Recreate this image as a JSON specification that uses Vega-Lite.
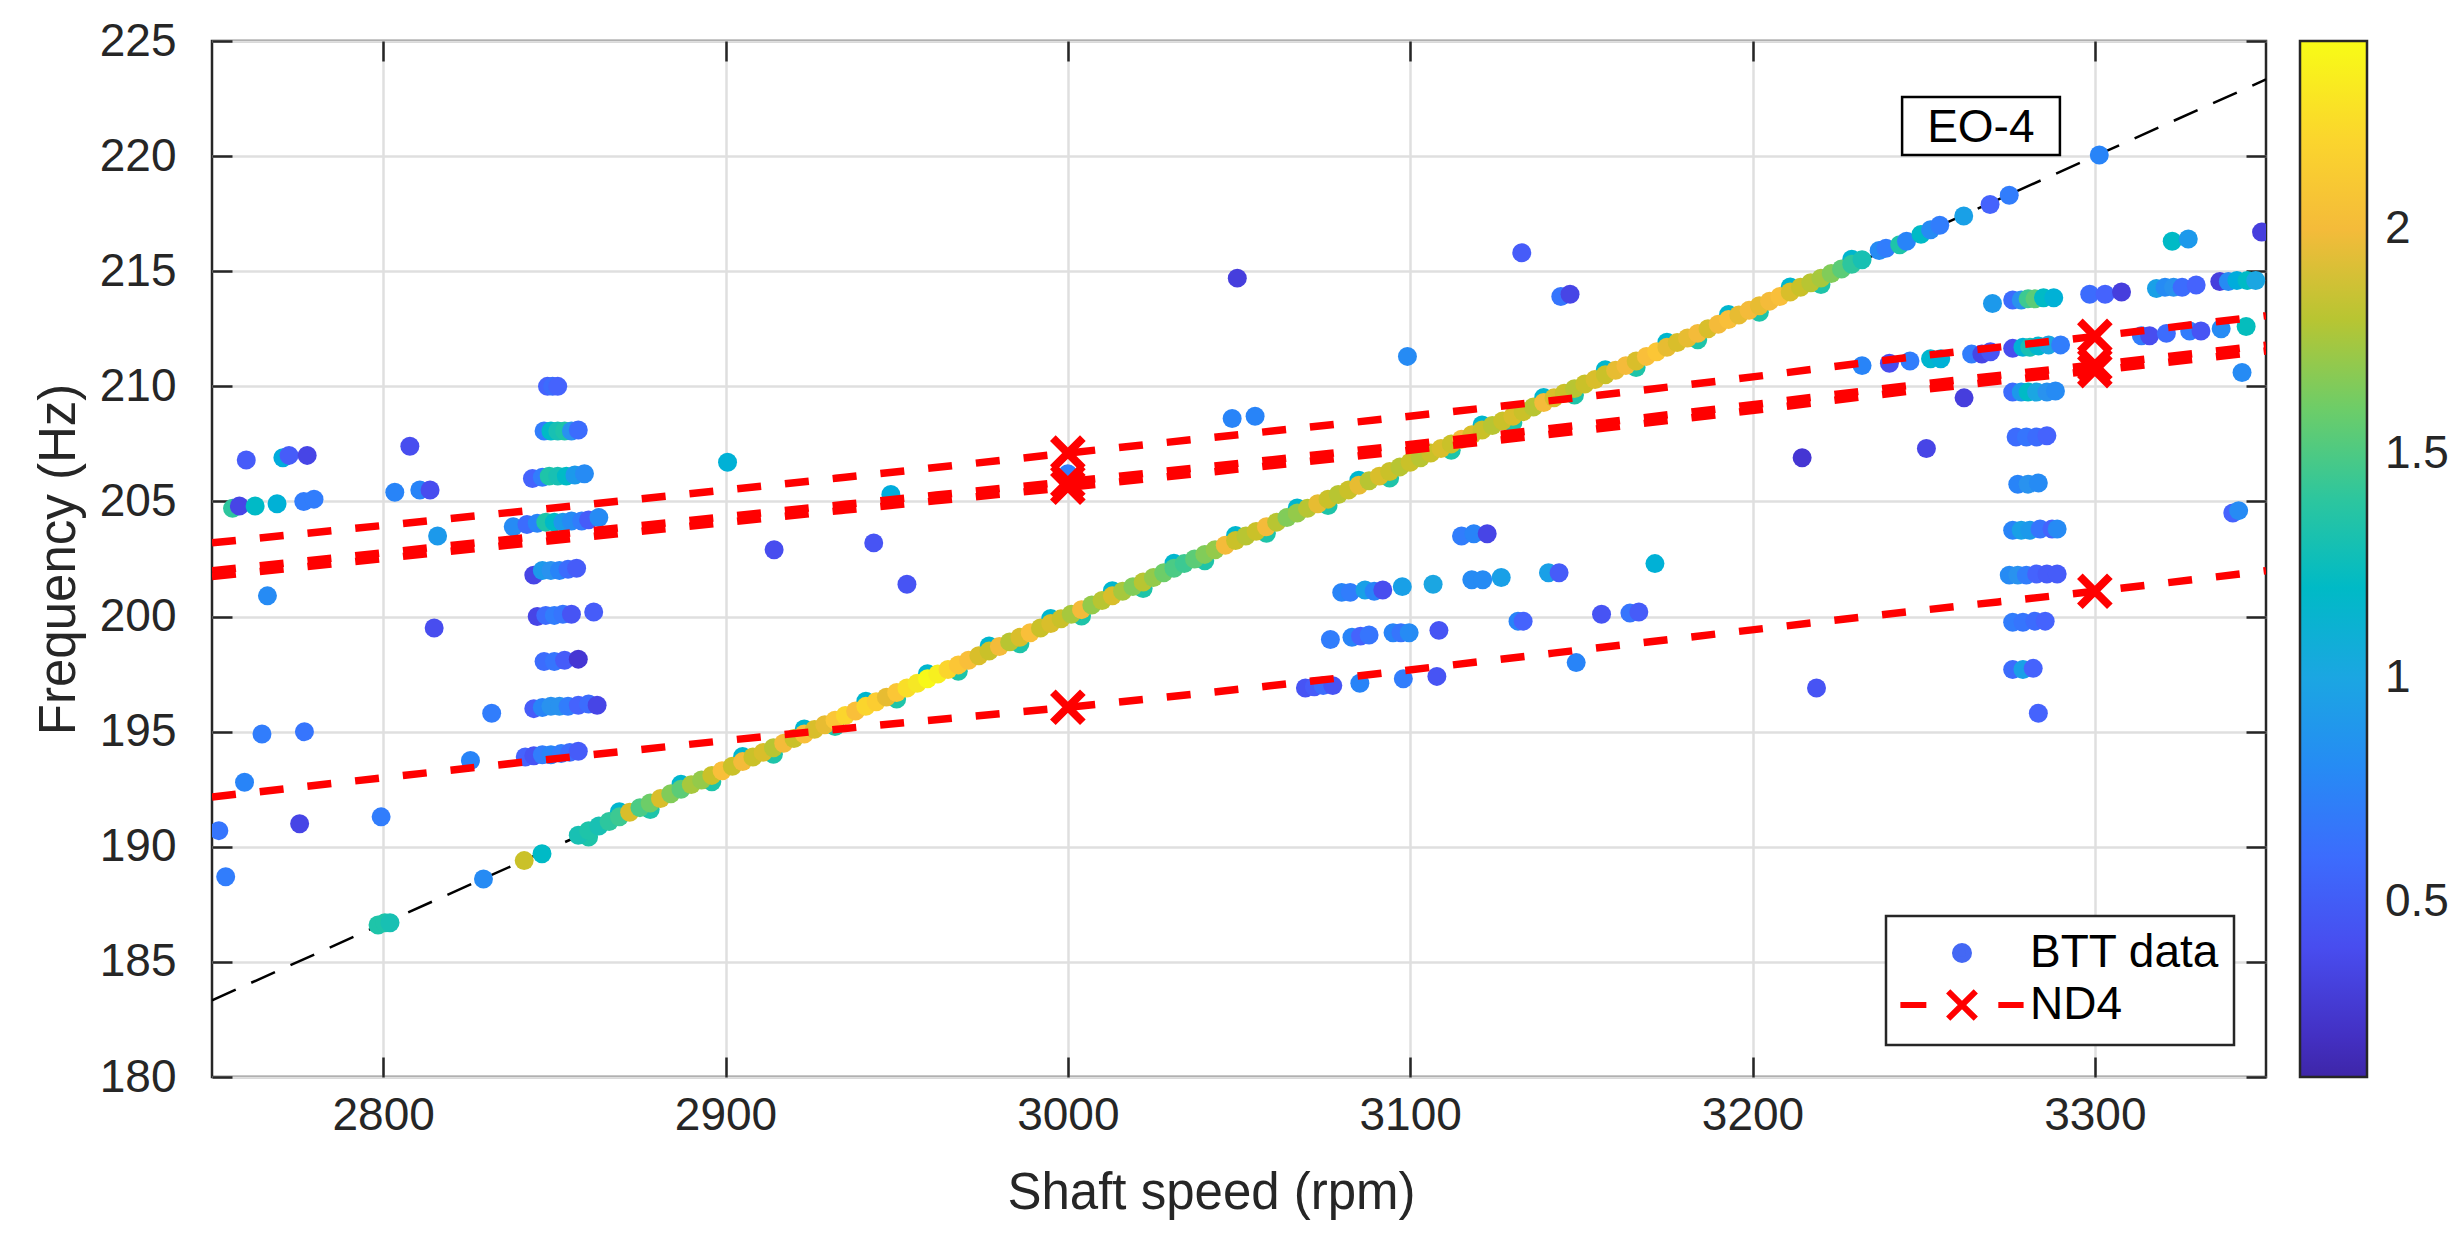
{
"$schema":"https://vega.github.io/schema/vega-lite/v6.json",
"width":2054,"height":1036,
"autosize":{"type":"none"},
"padding":{"left":212,"top":41,"right":196,"bottom":161},
"background":"white",
"datasets":{
"eo":[{"rpm":2750,"freq":183.33},{"rpm":3350,"freq":223.33}],
"note":[{"label":"EO-4","rpm":3266.7,"freq":221.2,"x1":3243.7,"x2":3289.8,"y1":220.05,"y2":222.57}],
"series":[{"series":"BTT data"},{"series":"ND4"}],
"nd4":[
{"mode":"A","rpm":2750,"freq":203.2,"fe":false},{"mode":"A","rpm":2935,"freq":206.05,"fe":false},{"mode":"A","rpm":3000,"freq":207.1,"fe":true},{"mode":"A","rpm":3194,"freq":210.3,"fe":false},{"mode":"A","rpm":3248,"freq":211.3,"fe":false},{"mode":"A","rpm":3300,"freq":212.17,"fe":true},{"mode":"A","rpm":3350,"freq":213.07,"fe":false},
{"mode":"B","rpm":2750,"freq":201.985,"fe":false},{"mode":"B","rpm":2935,"freq":204.875,"fe":false},{"mode":"B","rpm":3000,"freq":205.865,"fe":true},{"mode":"B","rpm":3194,"freq":209.095,"fe":false},{"mode":"B","rpm":3248,"freq":210.075,"fe":false},{"mode":"B","rpm":3300,"freq":210.935,"fe":true},{"mode":"B","rpm":3350,"freq":211.785,"fe":false},
{"mode":"C","rpm":2750,"freq":201.735,"fe":false},{"mode":"C","rpm":2935,"freq":204.625,"fe":false},{"mode":"C","rpm":3000,"freq":205.615,"fe":true},{"mode":"C","rpm":3194,"freq":208.845,"fe":false},{"mode":"C","rpm":3248,"freq":209.825,"fe":false},{"mode":"C","rpm":3300,"freq":210.685,"fe":true},{"mode":"C","rpm":3350,"freq":211.535,"fe":false},
{"mode":"D","rpm":2750,"freq":192.16,"fe":false},{"mode":"D","rpm":2935,"freq":195.14,"fe":false},{"mode":"D","rpm":3000,"freq":196.06,"fe":true},{"mode":"D","rpm":3194,"freq":199.32,"fe":false},{"mode":"D","rpm":3248,"freq":200.25,"fe":false},{"mode":"D","rpm":3300,"freq":201.1,"fe":true},{"mode":"D","rpm":3350,"freq":201.99,"fe":false}
],
"btt":[
{"rpm":2752,"freq":190.7,"amp":0.65},{"rpm":2754,"freq":188.7,"amp":0.7},{"rpm":2756,"freq":204.7,"amp":1.4},{"rpm":2758,"freq":204.8,"amp":0.35},{"rpm":2760,"freq":206.8,"amp":0.5},{"rpm":2759.5,"freq":192.8,"amp":0.75},{"rpm":2762.6,"freq":204.8,"amp":1.2},{"rpm":2764.6,"freq":194.9,"amp":0.7},{"rpm":2766.2,"freq":200.9,"amp":0.8},{"rpm":2769,"freq":204.9,"amp":1.1},{"rpm":2770.7,"freq":206.9,"amp":1.05},{"rpm":2772.5,"freq":207.0,"amp":0.5},{"rpm":2777.8,"freq":207.0,"amp":0.35},{"rpm":2775.6,"freq":191.0,"amp":0.35},{"rpm":2777,"freq":195.0,"amp":0.65},{"rpm":2776.8,"freq":205.0,"amp":0.7},{"rpm":2779.8,"freq":205.1,"amp":0.7},{"rpm":2799.4,"freq":191.3,"amp":0.7},{"rpm":2798.5,"freq":186.6,"amp":1.35},{"rpm":2800.5,"freq":186.7,"amp":1.35},{"rpm":2802,"freq":186.7,"amp":1.3},{"rpm":2803.4,"freq":205.4,"amp":0.75},{"rpm":2807.8,"freq":207.4,"amp":0.4},{"rpm":2810.7,"freq":205.5,"amp":0.75},{"rpm":2813.7,"freq":205.5,"amp":0.4},{"rpm":2815.9,"freq":203.5,"amp":0.9},{"rpm":2814.9,"freq":199.5,"amp":0.4},{"rpm":2825.5,"freq":193.75,"amp":0.75},{"rpm":2831.7,"freq":195.8,"amp":0.7},{"rpm":2829.3,"freq":188.6,"amp":0.8},{"rpm":2841.2,"freq":189.4,"amp":1.85},{"rpm":2846.4,"freq":189.7,"amp":1.2},{"rpm":2838,"freq":203.9,"amp":0.8},
{"rpm":2848,"freq":210.0,"amp":0.55},{"rpm":2849.5,"freq":210.0,"amp":0.6},{"rpm":2851,"freq":210.0,"amp":0.55},
{"rpm":2847,"freq":208.06,"amp":0.7},{"rpm":2849,"freq":208.06,"amp":1.2},{"rpm":2851,"freq":208.06,"amp":1.3},{"rpm":2853,"freq":208.06,"amp":1.35},{"rpm":2855,"freq":208.06,"amp":0.85},{"rpm":2857,"freq":208.1,"amp":0.6},
{"rpm":2843.6,"freq":206.0,"amp":0.55},{"rpm":2846.5,"freq":206.05,"amp":0.7},{"rpm":2848.5,"freq":206.1,"amp":1.35},{"rpm":2851,"freq":206.1,"amp":1.3},{"rpm":2853.5,"freq":206.1,"amp":1.2},{"rpm":2856,"freq":206.15,"amp":0.9},{"rpm":2858.8,"freq":206.2,"amp":0.8},
{"rpm":2842,"freq":204.0,"amp":0.6},{"rpm":2845,"freq":204.05,"amp":0.75},{"rpm":2847.5,"freq":204.1,"amp":1.35},{"rpm":2850,"freq":204.1,"amp":1.2},{"rpm":2852.5,"freq":204.1,"amp":0.9},{"rpm":2855,"freq":204.15,"amp":0.8},{"rpm":2858,"freq":204.15,"amp":0.7},{"rpm":2860,"freq":204.2,"amp":0.5},{"rpm":2863,"freq":204.3,"amp":0.8},
{"rpm":2844,"freq":201.8,"amp":0.35},{"rpm":2846.5,"freq":202.0,"amp":0.9},{"rpm":2849,"freq":202.0,"amp":0.85},{"rpm":2851.5,"freq":202.0,"amp":0.75},{"rpm":2854,"freq":202.05,"amp":0.6},{"rpm":2856.5,"freq":202.1,"amp":0.5},
{"rpm":2845,"freq":200.0,"amp":0.35},{"rpm":2847.5,"freq":200.05,"amp":0.6},{"rpm":2850,"freq":200.05,"amp":0.7},{"rpm":2852.5,"freq":200.1,"amp":0.65},{"rpm":2855,"freq":200.1,"amp":0.45},{"rpm":2861.5,"freq":200.2,"amp":0.5},
{"rpm":2847,"freq":198.05,"amp":0.6},{"rpm":2850,"freq":198.05,"amp":0.65},{"rpm":2853,"freq":198.1,"amp":0.5},{"rpm":2857,"freq":198.15,"amp":0.25},
{"rpm":2844,"freq":196.0,"amp":0.5},{"rpm":2846.5,"freq":196.05,"amp":0.75},{"rpm":2849,"freq":196.1,"amp":0.85},{"rpm":2851.5,"freq":196.1,"amp":0.85},{"rpm":2854,"freq":196.1,"amp":0.7},{"rpm":2857,"freq":196.15,"amp":0.55},{"rpm":2860,"freq":196.2,"amp":0.6},{"rpm":2862.5,"freq":196.15,"amp":0.35},
{"rpm":2841.5,"freq":193.9,"amp":0.55},{"rpm":2844,"freq":193.95,"amp":0.45},{"rpm":2846.5,"freq":194.0,"amp":0.7},{"rpm":2849,"freq":194.0,"amp":0.75},{"rpm":2852,"freq":194.05,"amp":0.7},{"rpm":2854.5,"freq":194.1,"amp":0.6},{"rpm":2857,"freq":194.15,"amp":0.5},
{"rpm":2900.6,"freq":206.7,"amp":1.1},{"rpm":2914.2,"freq":202.9,"amp":0.4},{"rpm":2943.3,"freq":203.2,"amp":0.45},{"rpm":2948.3,"freq":205.3,"amp":1.05},{"rpm":2953,"freq":201.4,"amp":0.45},{"rpm":3000,"freq":206.2,"amp":0.7},{"rpm":3049.5,"freq":214.7,"amp":0.3},{"rpm":3048,"freq":208.6,"amp":0.75},{"rpm":3054.7,"freq":208.7,"amp":0.75},{"rpm":3099.2,"freq":211.3,"amp":0.8},{"rpm":3132.6,"freq":215.8,"amp":0.5},{"rpm":3144,"freq":213.9,"amp":0.65},{"rpm":3146.7,"freq":214.0,"amp":0.35},{"rpm":3214.5,"freq":206.9,"amp":0.25},{"rpm":3115,"freq":203.5,"amp":0.7},{"rpm":3118.6,"freq":203.6,"amp":0.75},{"rpm":3122.5,"freq":203.6,"amp":0.35},
{"rpm":3080,"freq":201.05,"amp":0.75},{"rpm":3082.5,"freq":201.05,"amp":0.7},{"rpm":3086.8,"freq":201.15,"amp":0.95},{"rpm":3089.5,"freq":201.1,"amp":0.75},{"rpm":3092,"freq":201.15,"amp":0.4},{"rpm":3097.7,"freq":201.3,"amp":0.95},{"rpm":3106.7,"freq":201.4,"amp":1.0},{"rpm":3118,"freq":201.6,"amp":0.8},{"rpm":3121.2,"freq":201.6,"amp":0.8},{"rpm":3126.6,"freq":201.7,"amp":0.95},{"rpm":3140.4,"freq":201.9,"amp":0.95},{"rpm":3143.5,"freq":201.9,"amp":0.5},{"rpm":3171.5,"freq":202.3,"amp":1.1},
{"rpm":3076.7,"freq":199.0,"amp":0.7},{"rpm":3083,"freq":199.1,"amp":0.75},{"rpm":3085.5,"freq":199.15,"amp":0.55},{"rpm":3088,"freq":199.2,"amp":0.65},{"rpm":3095,"freq":199.3,"amp":0.75},{"rpm":3097.3,"freq":199.3,"amp":0.65},{"rpm":3099.7,"freq":199.3,"amp":0.8},{"rpm":3108.4,"freq":199.4,"amp":0.45},{"rpm":3131.5,"freq":199.8,"amp":0.75},{"rpm":3133,"freq":199.8,"amp":0.55},{"rpm":3155.9,"freq":200.1,"amp":0.45},{"rpm":3164.2,"freq":200.15,"amp":0.65},{"rpm":3166.8,"freq":200.2,"amp":0.5},
{"rpm":3069.4,"freq":196.9,"amp":0.45},{"rpm":3072,"freq":196.95,"amp":0.5},{"rpm":3074.6,"freq":197.0,"amp":0.6},{"rpm":3077.4,"freq":197.0,"amp":0.45},{"rpm":3085.3,"freq":197.1,"amp":0.75},{"rpm":3098,"freq":197.3,"amp":0.7},{"rpm":3107.8,"freq":197.4,"amp":0.45},{"rpm":3148.5,"freq":198.0,"amp":0.75},{"rpm":3218.7,"freq":196.9,"amp":0.45},
{"rpm":3232,"freq":210.9,"amp":0.75},{"rpm":3240,"freq":211.0,"amp":0.4},{"rpm":3246,"freq":211.1,"amp":0.7},{"rpm":3252,"freq":211.2,"amp":1.15},{"rpm":3255,"freq":211.2,"amp":1.1},{"rpm":3264,"freq":211.4,"amp":0.7},{"rpm":3267,"freq":211.4,"amp":0.35},{"rpm":3269.5,"freq":211.5,"amp":0.45},{"rpm":3276,"freq":211.65,"amp":0.4},{"rpm":3279,"freq":211.7,"amp":1.1},{"rpm":3281,"freq":211.7,"amp":1.3},{"rpm":3283.5,"freq":211.75,"amp":1.15},{"rpm":3286.5,"freq":211.8,"amp":1.0},{"rpm":3290,"freq":211.8,"amp":0.7},{"rpm":3313.6,"freq":212.2,"amp":0.7},{"rpm":3316,"freq":212.2,"amp":0.4},{"rpm":3320.9,"freq":212.3,"amp":0.6},{"rpm":3327.7,"freq":212.4,"amp":0.7},{"rpm":3331,"freq":212.4,"amp":0.45},{"rpm":3336.9,"freq":212.5,"amp":0.8},{"rpm":3344.2,"freq":212.6,"amp":1.25},{"rpm":3343,"freq":210.6,"amp":0.8},{"rpm":3261.8,"freq":209.5,"amp":0.3},{"rpm":3250.8,"freq":207.3,"amp":0.35},{"rpm":3340.3,"freq":204.5,"amp":0.55},{"rpm":3342,"freq":204.6,"amp":0.8},
{"rpm":3270.1,"freq":213.6,"amp":0.9},{"rpm":3276,"freq":213.75,"amp":0.6},{"rpm":3278.5,"freq":213.75,"amp":0.85},{"rpm":3280.5,"freq":213.8,"amp":1.45},{"rpm":3282.5,"freq":213.8,"amp":1.55},{"rpm":3285,"freq":213.85,"amp":1.2},{"rpm":3288,"freq":213.85,"amp":1.1},{"rpm":3298.5,"freq":214.0,"amp":0.6},{"rpm":3303,"freq":214.0,"amp":0.55},{"rpm":3307.8,"freq":214.1,"amp":0.3},{"rpm":3318,"freq":214.25,"amp":0.95},{"rpm":3320.5,"freq":214.3,"amp":0.8},{"rpm":3323,"freq":214.3,"amp":0.85},{"rpm":3325.5,"freq":214.3,"amp":0.6},{"rpm":3329.6,"freq":214.4,"amp":0.55},{"rpm":3336.5,"freq":214.55,"amp":0.3},{"rpm":3339,"freq":214.55,"amp":0.8},{"rpm":3341.5,"freq":214.6,"amp":1.05},{"rpm":3344.5,"freq":214.6,"amp":1.2},{"rpm":3347,"freq":214.6,"amp":1.0},
{"rpm":3322.6,"freq":216.3,"amp":1.2},{"rpm":3327.3,"freq":216.4,"amp":0.9},{"rpm":3348.7,"freq":216.7,"amp":0.3},
{"rpm":3276,"freq":209.75,"amp":0.6},{"rpm":3278.5,"freq":209.75,"amp":0.9},{"rpm":3280.5,"freq":209.75,"amp":1.2},{"rpm":3283,"freq":209.75,"amp":1.0},{"rpm":3286,"freq":209.75,"amp":0.85},{"rpm":3288.5,"freq":209.8,"amp":0.8},
{"rpm":3277,"freq":207.8,"amp":0.6},{"rpm":3280,"freq":207.8,"amp":0.65},{"rpm":3283,"freq":207.8,"amp":0.6},{"rpm":3286,"freq":207.85,"amp":0.55},
{"rpm":3277.5,"freq":205.75,"amp":0.75},{"rpm":3280.5,"freq":205.75,"amp":0.85},{"rpm":3283.5,"freq":205.8,"amp":0.8},
{"rpm":3276,"freq":203.75,"amp":0.75},{"rpm":3278.5,"freq":203.75,"amp":0.95},{"rpm":3281,"freq":203.75,"amp":0.9},{"rpm":3284,"freq":203.8,"amp":0.65},{"rpm":3287.5,"freq":203.8,"amp":0.55},{"rpm":3289,"freq":203.8,"amp":0.8},
{"rpm":3275,"freq":201.8,"amp":0.8},{"rpm":3277.5,"freq":201.8,"amp":0.85},{"rpm":3280,"freq":201.8,"amp":0.7},{"rpm":3283,"freq":201.85,"amp":0.55},{"rpm":3286,"freq":201.85,"amp":0.5},{"rpm":3289,"freq":201.85,"amp":0.5},
{"rpm":3276,"freq":199.75,"amp":0.7},{"rpm":3279,"freq":199.75,"amp":0.65},{"rpm":3282.5,"freq":199.8,"amp":0.6},{"rpm":3285.5,"freq":199.8,"amp":0.55},
{"rpm":3276,"freq":197.7,"amp":0.6},{"rpm":3279,"freq":197.7,"amp":0.95},{"rpm":3282,"freq":197.75,"amp":0.55},{"rpm":3283.5,"freq":195.8,"amp":0.55},
{"rpm":3237,"freq":215.9,"amp":0.8},{"rpm":3239,"freq":216.0,"amp":0.7},{"rpm":3243,"freq":216.15,"amp":1.35},{"rpm":3245,"freq":216.3,"amp":0.75},{"rpm":3249.2,"freq":216.6,"amp":1.2},{"rpm":3252,"freq":216.8,"amp":0.8},{"rpm":3254.7,"freq":217.0,"amp":0.7},{"rpm":3261.7,"freq":217.4,"amp":0.95},{"rpm":3269.4,"freq":217.9,"amp":0.55},{"rpm":3275,"freq":218.3,"amp":0.7},{"rpm":3301.3,"freq":220.05,"amp":0.75},
{"rpm":2860,"freq":190.42,"amp":1.35},{"rpm":2869,"freq":191.52,"amp":1.15},{"rpm":2878,"freq":191.62,"amp":1.35},{"rpm":2887,"freq":192.72,"amp":1.15},{"rpm":2896,"freq":192.82,"amp":1.35},{"rpm":2905,"freq":193.92,"amp":1.15},{"rpm":2914,"freq":194.02,"amp":1.35},{"rpm":2923,"freq":195.12,"amp":1.15},{"rpm":2932,"freq":195.22,"amp":1.35},{"rpm":2941,"freq":196.32,"amp":1.15},{"rpm":2950,"freq":196.42,"amp":1.35},{"rpm":2959,"freq":197.52,"amp":1.15},{"rpm":2968,"freq":197.62,"amp":1.35},{"rpm":2977,"freq":198.72,"amp":1.15},{"rpm":2986,"freq":198.82,"amp":1.35},{"rpm":2995,"freq":199.92,"amp":1.15},{"rpm":3004,"freq":200.02,"amp":1.35},{"rpm":3013,"freq":201.12,"amp":1.15},{"rpm":3022,"freq":201.22,"amp":1.35},{"rpm":3031,"freq":202.32,"amp":1.15},{"rpm":3040,"freq":202.42,"amp":1.35},{"rpm":3049,"freq":203.52,"amp":1.15},{"rpm":3058,"freq":203.62,"amp":1.35},{"rpm":3067,"freq":204.72,"amp":1.15},{"rpm":3076,"freq":204.82,"amp":1.35},{"rpm":3085,"freq":205.92,"amp":1.15},{"rpm":3094,"freq":206.02,"amp":1.35},{"rpm":3103,"freq":207.12,"amp":1.15},{"rpm":3112,"freq":207.22,"amp":1.35},{"rpm":3121,"freq":208.32,"amp":1.15},{"rpm":3130,"freq":208.42,"amp":1.35},{"rpm":3139,"freq":209.52,"amp":1.15},{"rpm":3148,"freq":209.62,"amp":1.35},{"rpm":3157,"freq":210.72,"amp":1.15},{"rpm":3166,"freq":210.82,"amp":1.35},{"rpm":3175,"freq":211.92,"amp":1.15},{"rpm":3184,"freq":212.02,"amp":1.35},{"rpm":3193,"freq":213.12,"amp":1.15},{"rpm":3202,"freq":213.22,"amp":1.35},{"rpm":3211,"freq":214.32,"amp":1.15},{"rpm":3220,"freq":214.42,"amp":1.35},{"rpm":3229,"freq":215.52,"amp":1.15},
{"rpm":2857,"freq":190.5,"amp":1.3},{"rpm":2860,"freq":190.7,"amp":1.35},{"rpm":2863,"freq":190.9,"amp":1.3},{"rpm":2866,"freq":191.1,"amp":1.4},{"rpm":2869,"freq":191.3,"amp":1.45},{"rpm":2872,"freq":191.5,"amp":1.9},{"rpm":2875,"freq":191.7,"amp":1.5},{"rpm":2878,"freq":191.9,"amp":1.6},{"rpm":2881,"freq":192.1,"amp":1.9},{"rpm":2884,"freq":192.3,"amp":1.65},{"rpm":2887,"freq":192.5,"amp":1.55},{"rpm":2890,"freq":192.7,"amp":1.75},{"rpm":2893,"freq":192.9,"amp":1.7},{"rpm":2896,"freq":193.1,"amp":1.85},{"rpm":2899,"freq":193.3,"amp":2.05},{"rpm":2902,"freq":193.5,"amp":1.85},{"rpm":2905,"freq":193.7,"amp":2.0},{"rpm":2908,"freq":193.9,"amp":1.85},{"rpm":2911,"freq":194.1,"amp":1.9},{"rpm":2914,"freq":194.3,"amp":1.8},{"rpm":2917,"freq":194.5,"amp":2.0},{"rpm":2920,"freq":194.7,"amp":1.85},{"rpm":2923,"freq":194.9,"amp":2.05},{"rpm":2926,"freq":195.1,"amp":1.9},{"rpm":2929,"freq":195.3,"amp":1.95},{"rpm":2932,"freq":195.5,"amp":2.1},{"rpm":2935,"freq":195.7,"amp":2.2},{"rpm":2938,"freq":195.9,"amp":2.05},{"rpm":2941,"freq":196.1,"amp":2.2},{"rpm":2944,"freq":196.3,"amp":2.15},{"rpm":2947,"freq":196.5,"amp":1.95},{"rpm":2950,"freq":196.7,"amp":2.1},{"rpm":2953,"freq":196.9,"amp":2.25},{"rpm":2956,"freq":197.1,"amp":2.3},{"rpm":2959,"freq":197.3,"amp":2.4},{"rpm":2962,"freq":197.5,"amp":2.35},{"rpm":2965,"freq":197.7,"amp":2.2},{"rpm":2968,"freq":197.9,"amp":2.1},{"rpm":2971,"freq":198.1,"amp":2.05},{"rpm":2974,"freq":198.3,"amp":1.9},{"rpm":2977,"freq":198.5,"amp":1.85},{"rpm":2980,"freq":198.7,"amp":2.0},{"rpm":2983,"freq":198.9,"amp":1.8},{"rpm":2986,"freq":199.1,"amp":1.9},{"rpm":2989,"freq":199.3,"amp":2.05},{"rpm":2992,"freq":199.5,"amp":1.85},{"rpm":2995,"freq":199.7,"amp":1.9},{"rpm":2998,"freq":199.9,"amp":1.85},{"rpm":3001,"freq":200.1,"amp":1.75},{"rpm":3004,"freq":200.3,"amp":2.0},{"rpm":3007,"freq":200.5,"amp":1.7},{"rpm":3010,"freq":200.7,"amp":1.8},{"rpm":3013,"freq":200.9,"amp":1.9},{"rpm":3016,"freq":201.1,"amp":1.75},{"rpm":3019,"freq":201.3,"amp":1.65},{"rpm":3022,"freq":201.5,"amp":1.8},{"rpm":3025,"freq":201.7,"amp":1.7},{"rpm":3028,"freq":201.9,"amp":1.6},{"rpm":3031,"freq":202.1,"amp":1.5},{"rpm":3034,"freq":202.3,"amp":1.45},{"rpm":3037,"freq":202.5,"amp":1.55},{"rpm":3040,"freq":202.7,"amp":1.65},{"rpm":3043,"freq":202.9,"amp":1.7},{"rpm":3046,"freq":203.1,"amp":2.0},{"rpm":3049,"freq":203.3,"amp":1.85},{"rpm":3052,"freq":203.5,"amp":1.8},{"rpm":3055,"freq":203.7,"amp":1.85},{"rpm":3058,"freq":203.9,"amp":2.0},{"rpm":3061,"freq":204.1,"amp":1.8},{"rpm":3064,"freq":204.3,"amp":1.65},{"rpm":3067,"freq":204.5,"amp":1.7},{"rpm":3070,"freq":204.7,"amp":1.8},{"rpm":3073,"freq":204.9,"amp":1.95},{"rpm":3076,"freq":205.1,"amp":1.85},{"rpm":3079,"freq":205.3,"amp":1.8},{"rpm":3082,"freq":205.5,"amp":1.85},{"rpm":3085,"freq":205.7,"amp":1.95},{"rpm":3088,"freq":205.9,"amp":1.8},{"rpm":3091,"freq":206.1,"amp":1.9},{"rpm":3094,"freq":206.3,"amp":1.85},{"rpm":3097,"freq":206.5,"amp":1.8},{"rpm":3100,"freq":206.7,"amp":1.85},{"rpm":3103,"freq":206.9,"amp":1.8},{"rpm":3106,"freq":207.1,"amp":1.85},{"rpm":3109,"freq":207.3,"amp":1.9},{"rpm":3112,"freq":207.5,"amp":1.85},{"rpm":3115,"freq":207.7,"amp":2.0},{"rpm":3118,"freq":207.9,"amp":1.9},{"rpm":3121,"freq":208.1,"amp":1.85},{"rpm":3124,"freq":208.3,"amp":1.8},{"rpm":3127,"freq":208.5,"amp":1.85},{"rpm":3130,"freq":208.7,"amp":1.9},{"rpm":3133,"freq":208.9,"amp":1.85},{"rpm":3136,"freq":209.1,"amp":1.8},{"rpm":3139,"freq":209.3,"amp":2.0},{"rpm":3142,"freq":209.5,"amp":1.9},{"rpm":3145,"freq":209.7,"amp":1.85},{"rpm":3148,"freq":209.9,"amp":1.8},{"rpm":3151,"freq":210.1,"amp":1.85},{"rpm":3154,"freq":210.3,"amp":1.9},{"rpm":3157,"freq":210.5,"amp":1.85},{"rpm":3160,"freq":210.7,"amp":1.95},{"rpm":3163,"freq":210.9,"amp":2.0},{"rpm":3166,"freq":211.1,"amp":1.9},{"rpm":3169,"freq":211.3,"amp":2.05},{"rpm":3172,"freq":211.5,"amp":2.1},{"rpm":3175,"freq":211.7,"amp":1.95},{"rpm":3178,"freq":211.9,"amp":1.9},{"rpm":3181,"freq":212.1,"amp":1.95},{"rpm":3184,"freq":212.3,"amp":2.0},{"rpm":3187,"freq":212.5,"amp":1.9},{"rpm":3190,"freq":212.7,"amp":2.0},{"rpm":3193,"freq":212.9,"amp":2.05},{"rpm":3196,"freq":213.1,"amp":1.95},{"rpm":3199,"freq":213.3,"amp":2.0},{"rpm":3202,"freq":213.5,"amp":1.95},{"rpm":3205,"freq":213.7,"amp":2.0},{"rpm":3208,"freq":213.9,"amp":2.05},{"rpm":3211,"freq":214.1,"amp":1.9},{"rpm":3214,"freq":214.3,"amp":1.85},{"rpm":3217,"freq":214.5,"amp":1.8},{"rpm":3220,"freq":214.7,"amp":1.75},{"rpm":3223,"freq":214.9,"amp":1.65},{"rpm":3226,"freq":215.1,"amp":1.55},{"rpm":3229,"freq":215.3,"amp":1.4},{"rpm":3232,"freq":215.5,"amp":1.3}
]
},
"resolve":{"axis":{"x":"independent","y":"independent"}},
"layer":[
{"data":{"name":"eo"},
 "mark":{"type":"line","color":"#000000","strokeWidth":2.5,"strokeDash":[26,17],"clip":true},
 "encoding":{
  "x":{"field":"rpm","type":"quantitative","scale":{"domain":[2750,3350],"nice":false,"zero":false},
       "axis":{"orient":"top","labels":false,"grid":false,"domain":false,"title":null,"ticks":true,"tickSize":-20,"tickWidth":2.5,"tickColor":"#262626","values":[2800,2900,3000,3100,3200,3300]}},
  "y":{"field":"freq","type":"quantitative","scale":{"domain":[180,225],"nice":false,"zero":false},
       "axis":{"orient":"right","labels":false,"grid":false,"domain":false,"title":null,"ticks":true,"tickSize":-20,"tickWidth":2.5,"tickColor":"#262626","values":[180,185,190,195,200,205,210,215,220,225]}}
 }},
{"data":{"name":"btt"},
 "mark":{"type":"point","filled":true,"size":360,"opacity":1,"strokeWidth":0,"clip":true},
 "encoding":{
  "x":{"field":"rpm","type":"quantitative","scale":{"domain":[2750,3350],"nice":false,"zero":false},
       "axis":{"orient":"bottom","values":[2800,2900,3000,3100,3200,3300],"format":"d","grid":true,"gridColor":"#dfdfdf","gridWidth":2.5,"domain":false,"ticks":true,"tickSize":-20,"tickWidth":2.5,"tickColor":"#262626","labelFontSize":46,"labelColor":"#262626","labelPadding":36,"labelFont":"Liberation Sans","title":"Shaft speed (rpm)","titleFontSize":51,"titleFontWeight":"normal","titleColor":"#262626","titleFont":"Liberation Sans","titleX":999,"titleY":131,"titleBaseline":"alphabetic","titleAnchor":null,"titleAlign":"center"}},
  "y":{"field":"freq","type":"quantitative","scale":{"domain":[180,225],"nice":false,"zero":false},
       "axis":{"orient":"left","values":[180,185,190,195,200,205,210,215,220,225],"grid":true,"gridColor":"#dfdfdf","gridWidth":2.5,"domain":false,"ticks":true,"tickSize":-20,"tickWidth":2.5,"tickColor":"#262626","labelFontSize":46,"labelColor":"#262626","labelPadding":56,"labelFont":"Liberation Sans","title":"Frequency (Hz)","titleFontSize":51,"titleFontWeight":"normal","titleColor":"#262626","titleFont":"Liberation Sans","titleX":-138,"titleY":518,"titleAngle":270,"titleBaseline":"alphabetic","titleAlign":"center","titleAnchor":null}},
  "color":{"field":"amp","type":"quantitative",
     "scale":{"type":"linear","domain":[0.11,0.2567,0.4033,0.55,0.6967,0.8433,0.99,1.1367,1.2833,1.43,1.5767,1.7233,1.87,2.0167,2.1633,2.31,2.42],
              "range":["#3e26a8","#4537d5","#484df0","#4563fd","#327cfc","#2b91ef","#20a5e3","#08b5d0","#19bfb6","#37c897","#64cd6f","#9dc943","#d1bf27","#f8ba3d","#fccf30","#f5e924","#f9fb15"],"clamp":true},
     "legend":{"orient":"none","legendX":2088,"legendY":0,"direction":"vertical","gradientLength":1036,"gradientThickness":67,"title":null,"values":[0.5,1,1.5,2],"format":"~g","labelFontSize":46,"labelColor":"#262626","labelFont":"Liberation Sans","labelOffset":18,"labelOverlap":false,"gradientStrokeColor":"#262626","gradientStrokeWidth":2.5,"padding":0}}
 }},
{"data":{"name":"nd4"},
 "mark":{"type":"line","color":"#ff0000","strokeWidth":7.5,"strokeDash":[24,24],"interpolate":"monotone","clip":true},
 "encoding":{
  "x":{"field":"rpm","type":"quantitative","scale":{"domain":[2750,3350],"nice":false,"zero":false},"axis":null},
  "y":{"field":"freq","type":"quantitative","scale":{"domain":[180,225],"nice":false,"zero":false},"axis":null},
  "detail":{"field":"mode","type":"nominal"}
 }},
{"data":{"name":"nd4"},
 "transform":[{"filter":"datum.fe"}],
 "mark":{"type":"point","shape":"M-1,-1L1,1M1,-1L-1,1","size":900,"filled":false,"stroke":"#ff0000","strokeWidth":8,"opacity":1},
 "encoding":{
  "x":{"field":"rpm","type":"quantitative","scale":{"domain":[2750,3350],"nice":false,"zero":false},"axis":null},
  "y":{"field":"freq","type":"quantitative","scale":{"domain":[180,225],"nice":false,"zero":false},"axis":null}
 }},
{"data":{"name":"note"},
 "mark":{"type":"rect","fill":"#ffffff","stroke":"#000000","strokeWidth":2.5},
 "encoding":{
  "x":{"field":"x1","type":"quantitative","scale":{"domain":[2750,3350],"nice":false,"zero":false},"axis":null},
  "x2":{"field":"x2"},
  "y":{"field":"y1","type":"quantitative","scale":{"domain":[180,225],"nice":false,"zero":false},"axis":null},
  "y2":{"field":"y2"}
 }},
{"data":{"name":"note"},
 "mark":{"type":"text","fontSize":46,"font":"Liberation Sans","color":"#000000","align":"center","baseline":"middle"},
 "encoding":{
  "x":{"field":"rpm","type":"quantitative","scale":{"domain":[2750,3350],"nice":false,"zero":false},"axis":null},
  "y":{"field":"freq","type":"quantitative","scale":{"domain":[180,225],"nice":false,"zero":false},"axis":null},
  "text":{"field":"label"}
 }},
{"data":{"name":"series"},
 "mark":{"type":"point","filled":true,"opacity":0,"size":196,"strokeWidth":6},
 "encoding":{
  "fill":{"field":"series","type":"nominal","scale":{"domain":["BTT data","ND4"],"range":["#4468f4","#ff0000"]},
     "legend":{"orient":"bottom-right","offset":32,"title":null,"padding":14,"rowPadding":3,"symbolSize":196,"symbolStrokeWidth":6,"symbolOpacity":1,"labelOffset":84,"labelLimit":600,"labelFontSize":46,"labelColor":"#000000","labelFont":"Liberation Sans","strokeColor":"#262626","fillColor":"#ffffff"}},
  "stroke":{"field":"series","type":"nominal","scale":{"domain":["BTT data","ND4"],"range":["#4468f4","#ff0000"]},
     "legend":{"orient":"bottom-right","offset":32,"title":null,"padding":14,"rowPadding":3,"symbolSize":196,"symbolStrokeWidth":6,"symbolOpacity":1,"labelOffset":84,"labelLimit":600,"labelFontSize":46,"labelColor":"#000000","labelFont":"Liberation Sans","strokeColor":"#262626","fillColor":"#ffffff"}},
  "shape":{"field":"series","type":"nominal","scale":{"domain":["BTT data","ND4"],"range":["M4.57,0A1,1 0 1,0 6.57,0A1,1 0 1,0 4.57,0Z","M-3.23,0H0.48M3.6,-1.96L7.54,1.96M7.54,-1.96L3.6,1.96M10.76,0H14.37"]},
     "legend":{"orient":"bottom-right","offset":32,"title":null,"padding":14,"rowPadding":3,"symbolSize":196,"symbolStrokeWidth":6,"symbolOpacity":1,"labelOffset":84,"labelLimit":600,"labelFontSize":46,"labelColor":"#000000","labelFont":"Liberation Sans","strokeColor":"#262626","fillColor":"#ffffff"}}
 }}
],
"config":{"font":"Liberation Sans","view":{"stroke":"#262626","strokeWidth":2.5},"legend":{"strokeWidth":2.5}}
}
